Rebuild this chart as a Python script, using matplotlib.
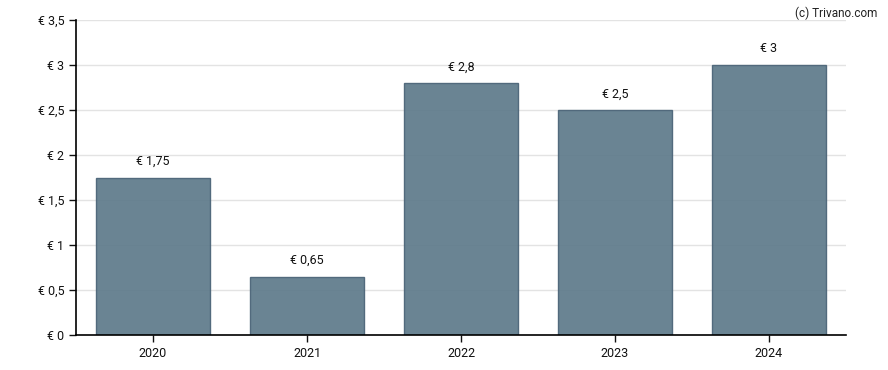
import matplotlib.pyplot as plt
from matplotlib.ticker import FuncFormatter

years = ['2020', '2021', '2022', '2023', '2024']
dividend = [1.75, 0.65, 2.8, 2.5, 3.0]
labels = ['€ 1,75', '€ 0,65', '€ 2,8', '€ 2,5', '€ 3']
yticks = [0, 0.5, 1, 1.5, 2, 2.5, 3, 3.5]

plt.rcParams['font.family'] = ['Roboto', 'DejaVu Sans']

fig = plt.figure(figsize=(8.88, 3.70), dpi=100)
ax = fig.add_axes([0.0856, 0.0946, 0.8671, 0.8513])

x = range(len(years))
ax.bar(x, dividend, width=0.74, color='#5f7b8b', alpha=0.93,
       edgecolor='#4b6478', linewidth=1, zorder=2)
for i, (v, s) in enumerate(zip(dividend, labels)):
    ax.annotate(s, (i, v), xytext=(0, 7), textcoords='offset points',
                ha='center', va='bottom', fontsize=9, color='#111111')

ax.set_xlim(-0.5, len(years) - 0.5)
ax.set_ylim(0, 3.5)
ax.set_xticks(list(x))
ax.set_xticklabels(years)
ax.set_yticks(yticks)
ax.yaxis.set_major_formatter(FuncFormatter(
    lambda v, p: '€ ' + ('%g' % v).replace('.', ',')))
ax.grid(axis='y', color='#e3e3e3', linewidth=1, zorder=1)
ax.set_axisbelow(True)
for sp in ['top', 'right']:
    ax.spines[sp].set_visible(False)
for sp in ['left', 'bottom']:
    ax.spines[sp].set_linewidth(1.2)
    ax.spines[sp].set_zorder(4)
ax.tick_params(axis='both', length=5, width=1, labelsize=9, colors='#111111')

fig.text(0.988, 0.982, '(c) Trivano.com', ha='right', va='top', fontsize=8.5,
         color='#222222')

fig.savefig('out.png')
